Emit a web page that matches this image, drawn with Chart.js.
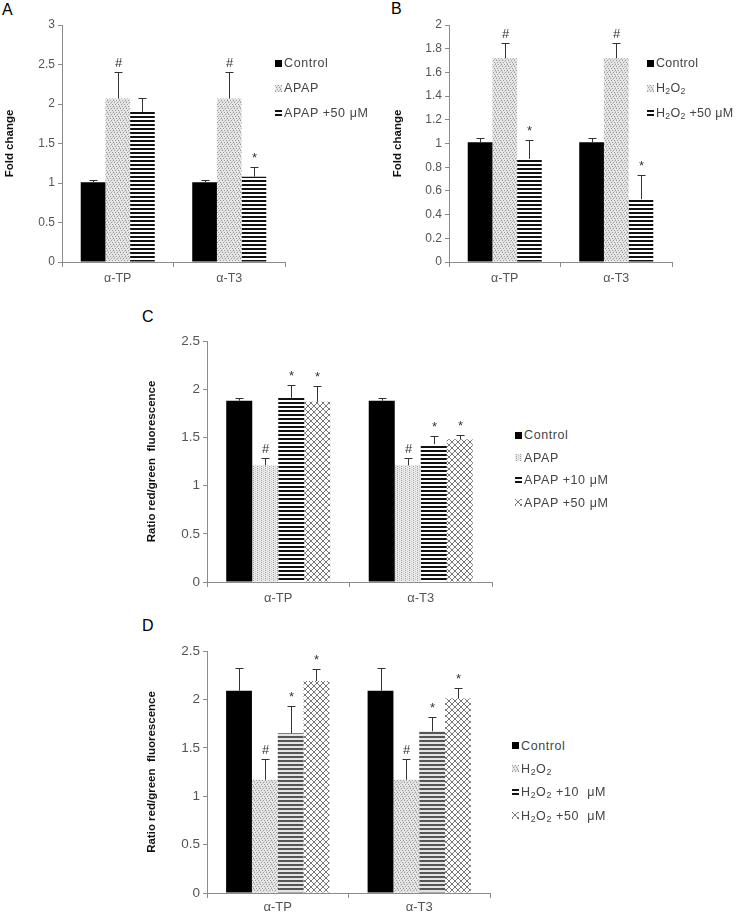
<!DOCTYPE html>
<html lang="en">
<head>
  <meta charset="UTF-8">
  <title>Fold change / red-green ratio</title>
  <script src="https://cdn.jsdelivr.net/npm/chart.js"></script>
  <style>
    body { margin: 0; background: #fff; }
    #wrap { position: relative; width: 740px; height: 915px; background: #fff; font-family: "Liberation Sans", Arial, sans-serif; }
    canvas.panel { position: absolute; }
    .letter { position: absolute; font-size: 16px; color: #000; line-height: 1; }
    .lg-row { position: absolute; display: flex; align-items: center; font-size: 12.5px; color: #444; letter-spacing: 0.6px; white-space: pre; }
    .lg-row canvas { margin-right: 2px; }
    sub { font-size: 0.7em; vertical-align: -0.25em; line-height: 0; }
  </style>
</head>
<body>
<div id="wrap">
  <div class="letter" style="left:2px;top:2px">A</div>
  <div class="letter" style="left:391px;top:1px">B</div>
  <div class="letter" style="left:142px;top:309px">C</div>
  <div class="letter" style="left:142px;top:618px">D</div>
  <canvas id="chartA" class="panel" width="290" height="290" style="left:0;top:0"></canvas>
  <canvas id="chartB" class="panel" width="307" height="290" style="left:370px;top:0"></canvas>
  <canvas id="chartC" class="panel" width="357" height="300" style="left:140px;top:310px"></canvas>
  <canvas id="chartD" class="panel" width="355" height="295" style="left:140px;top:620px"></canvas>
</div>

<script>
const categories = ['α-TP', 'α-T3'];

// A - Fold change, APAP
const aControl = [1.01, 1.01];
const aControlErr = [0.03, 0.03];
const aApap = [2.07, 2.07];
const aApapErr = [0.33, 0.33];
const aApap50 = [1.9, 1.08];
const aApap50Err = [0.18, 0.12];
const aMarks = [['', ''], ['#', '#'], ['', '*']];

// B - Fold change, H2O2
const bControl = [1.01, 1.01];
const bControlErr = [0.035, 0.035];
const bH2o2 = [1.72, 1.72];
const bH2o2Err = [0.13, 0.13];
const bH2o2_50 = [0.87, 0.53];
const bH2o2_50Err = [0.16, 0.2];
const bMarks = [['', ''], ['#', '#'], ['*', '*']];

// C - ratio red/green, APAP
const cControl = [1.88, 1.88];
const cControlErr = [0.03, 0.03];
const cApap = [1.21, 1.21];
const cApapErr = [0.08, 0.08];
const cApap10 = [1.91, 1.43];
const cApap10Err = [0.13, 0.08];
const cApap50 = [1.87, 1.48];
const cApap50Err = [0.16, 0.05];
const cMarks = [['', ''], ['#', '#'], ['*', '*'], ['*', '*']];

// D - ratio red/green, H2O2
const dControl = [2.09, 2.09];
const dControlErr = [0.23, 0.23];
const dH2o2 = [1.17, 1.17];
const dH2o2Err = [0.21, 0.21];
const dH2o2_10 = [1.65, 1.67];
const dH2o2_10Err = [0.28, 0.15];
const dH2o2_50 = [2.19, 2.01];
const dH2o2_50Err = [0.12, 0.11];
const dMarks = [['', ''], ['#', '#'], ['*', '*'], ['*', '*']];

const FONT = '"Liberation Sans", Arial, sans-serif';

// fill patterns
function tile(w, h, draw) {
  const c = document.createElement('canvas');
  c.width = w; c.height = h;
  draw(c.getContext('2d'));
  return c;
}
const tiles = {
  solid: tile(4, 4, g => { g.fillStyle = '#000'; g.fillRect(0, 0, 4, 4); }),
  dots: tile(6, 6, g => {
    g.fillStyle = '#e6e6e6'; g.fillRect(0, 0, 6, 6);
    g.fillStyle = '#9a9a9a';
    [[0, 0], [3, 0], [1, 2], [4, 2], [2, 4], [5, 4]].forEach(p => g.fillRect(p[0], p[1], 1, 1));
    g.fillStyle = '#c2c2c2';
    [[2, 1], [5, 3], [0, 5], [4, 5]].forEach(p => g.fillRect(p[0], p[1], 1, 1));
  }),
  vdots: tile(4, 4, g => {
    g.fillStyle = '#eaeaea'; g.fillRect(0, 0, 4, 4);
    g.fillStyle = '#a0a0a0'; g.fillRect(1, 0, 1, 1); g.fillRect(1, 2, 1, 1);
    g.fillStyle = '#c4c4c4'; g.fillRect(3, 1, 1, 1); g.fillRect(3, 3, 1, 1);
  }),
  stripes: tile(4, 4, g => {
    g.fillStyle = '#fff'; g.fillRect(0, 0, 4, 4);
    g.fillStyle = '#111'; g.fillRect(0, 0, 4, 2);
  }),
  greyStripes: tile(4, 4, g => {
    g.fillStyle = '#e4e4e4'; g.fillRect(0, 0, 4, 4);
    g.fillStyle = '#555'; g.fillRect(0, 0, 4, 2);
  }),
  cross: tile(6, 6, g => {
    g.fillStyle = '#fff'; g.fillRect(0, 0, 6, 6);
    g.strokeStyle = '#777'; g.lineWidth = 1;
    g.beginPath();
    g.moveTo(-1, -1); g.lineTo(7, 7);
    g.moveTo(7, -1); g.lineTo(-1, 7);
    g.stroke();
  })
};
function pat(ctx, name) {
  return ctx.createPattern(tiles[name], 'repeat');
}

// error bars + significance marks
const errorBars = {
  id: 'errorBars',
  afterDatasetsDraw(chart) {
    const ctx = chart.ctx;
    const ys = chart.scales.y;
    chart.data.datasets.forEach((ds, i) => {
      chart.getDatasetMeta(i).data.forEach((bar, j) => {
        const top = Math.round(ys.getPixelForValue(ds.data[j] + ds.errors[j])) + 0.5;
        const x = Math.round(bar.x) + 0.5;
        ctx.save();
        ctx.strokeStyle = '#333';
        ctx.lineWidth = 1;
        ctx.beginPath();
        ctx.moveTo(x, bar.y);
        ctx.lineTo(x, top);
        ctx.moveTo(x - 4, top);
        ctx.lineTo(x + 4, top);
        ctx.stroke();
        if (ds.marks[j]) {
          ctx.fillStyle = '#333';
          ctx.font = '13px ' + FONT;
          ctx.textAlign = 'center';
          ctx.textBaseline = 'bottom';
          ctx.fillText(ds.marks[j], x, top - 3);
        }
        ctx.restore();
      });
    });
  }
};

function panel(id, cfg) {
  const canvas = document.getElementById(id);
  const ctx = canvas.getContext('2d');
  return new Chart(canvas, {
    type: 'bar',
    data: {
      labels: categories,
      datasets: cfg.series.map((s, i) => ({
        label: s.label,
        data: s.data,
        errors: s.err,
        marks: cfg.marks[i],
        backgroundColor: pat(ctx, s.fill),
        borderWidth: 0,
        categoryPercentage: cfg.catPct,
        barPercentage: 1.0
      }))
    },
    options: {
      responsive: false,
      animation: false,
      events: [],
      layout: { padding: { top: cfg.padTop, right: 5, left: 0, bottom: 0 } },
      plugins: { legend: { display: false }, tooltip: { enabled: false } },
      scales: {
        x: {
          offset: true,
          grid: { offset: true, drawOnChartArea: false, tickLength: 5, color: '#8c8c8c' },
          border: { color: '#8c8c8c' },
          ticks: { color: '#555', font: { family: FONT, size: cfg.catSize }, padding: cfg.catPad },
          afterFit: s => { s.height = cfg.xHeight; }
        },
        y: {
          min: 0,
          max: cfg.yMax,
          ticks: {
            stepSize: cfg.yStep,
            color: '#555',
            font: { family: FONT, size: cfg.tickSize },
            padding: 3,
            callback: v => String(+v.toFixed(2))
          },
          grid: { drawOnChartArea: false, tickLength: 4, color: '#8c8c8c' },
          border: { color: '#8c8c8c' },
          title: {
            display: true,
            text: cfg.yTitle,
            color: '#111',
            font: { family: FONT, size: 11.5, weight: 'bold' },
            padding: { top: cfg.titlePad, bottom: 0 }
          },
          afterFit: s => { s.width = cfg.yWidth; }
        }
      }
    },
    plugins: [errorBars]
  });
}

panel('chartA', {
  series: [
    { label: 'Control', data: aControl, err: aControlErr, fill: 'solid' },
    { label: 'APAP', data: aApap, err: aApapErr, fill: 'dots' },
    { label: 'APAP +50 μM', data: aApap50, err: aApap50Err, fill: 'stripes' }
  ],
  marks: aMarks, yMax: 3, yStep: 0.5, yTitle: 'Fold change',
  padTop: 25, yWidth: 62, xHeight: 28, titlePad: 3, catPct: 0.664,
  tickSize: 12, catSize: 12.5, catPad: 4
});

panel('chartB', {
  series: [
    { label: 'Control', data: bControl, err: bControlErr, fill: 'solid' },
    { label: 'H2O2', data: bH2o2, err: bH2o2Err, fill: 'dots' },
    { label: 'H2O2 +50 μM', data: bH2o2_50, err: bH2o2_50Err, fill: 'stripes' }
  ],
  marks: bMarks, yMax: 2, yStep: 0.2, yTitle: 'Fold change',
  padTop: 25, yWidth: 79, xHeight: 28, titlePad: 21, catPct: 0.664,
  tickSize: 12, catSize: 12.5, catPad: 4
});

panel('chartC', {
  series: [
    { label: 'Control', data: cControl, err: cControlErr, fill: 'solid' },
    { label: 'APAP', data: cApap, err: cApapErr, fill: 'vdots' },
    { label: 'APAP +10 μM', data: cApap10, err: cApap10Err, fill: 'stripes' },
    { label: 'APAP +50 μM', data: cApap50, err: cApap50Err, fill: 'cross' }
  ],
  marks: cMarks, yMax: 2.5, yStep: 0.5, yTitle: 'Ratio red/green  fluorescence',
  padTop: 31, yWidth: 67, xHeight: 28, titlePad: 5, catPct: 0.73,
  tickSize: 13.5, catSize: 13, catPad: 4
});

panel('chartD', {
  series: [
    { label: 'Control', data: dControl, err: dControlErr, fill: 'solid' },
    { label: 'H2O2', data: dH2o2, err: dH2o2Err, fill: 'dots' },
    { label: 'H2O2 +10 μM', data: dH2o2_10, err: dH2o2_10Err, fill: 'greyStripes' },
    { label: 'H2O2 +50 μM', data: dH2o2_50, err: dH2o2_50Err, fill: 'cross' }
  ],
  marks: dMarks, yMax: 2.5, yStep: 0.5, yTitle: 'Ratio red/green  fluorescence',
  padTop: 31, yWidth: 67, xHeight: 22, titlePad: 5, catPct: 0.73,
  tickSize: 13.5, catSize: 13, catPad: 2
});

// legends (html, swatch uses the same fill tiles)
const H2O2 = 'H<sub>2</sub>O<sub>2</sub>';
function legend(left, top, gap, items, spacing) {
  const wrap = document.getElementById('wrap');
  items.forEach((it, i) => {
    const row = document.createElement('div');
    row.className = 'lg-row';
    row.style.left = left + 'px';
    row.style.top = (top + i * gap) + 'px';
    row.style.height = gap + 'px';
    if (spacing !== undefined) row.style.letterSpacing = spacing + 'px';
    const sw = document.createElement('canvas');
    sw.width = 7; sw.height = 7;
    const g = sw.getContext('2d');
    g.fillStyle = g.createPattern(tiles[it[0]], 'repeat');
    g.fillRect(0, 0, 7, 7);
    row.appendChild(sw);
    const txt = document.createElement('span');
    txt.innerHTML = it[1];
    row.appendChild(txt);
    wrap.appendChild(row);
  });
}
legend(275, 50.5, 25, [['solid', 'Control'], ['dots', 'APAP'], ['stripes', 'APAP +50 μM']]);
legend(647, 50.5, 25, [['solid', 'Control'], ['dots', H2O2], ['stripes', H2O2 + ' +50 μM']], 0.3);
legend(515, 424, 22.5, [['solid', 'Control'], ['vdots', 'APAP'], ['stripes', 'APAP +10 μM'], ['cross', 'APAP +50 μM']]);
legend(512, 734, 23.3, [['solid', 'Control'], ['dots', H2O2], ['stripes', H2O2 + ' +10  μM'], ['cross', H2O2 + ' +50  μM']]);
</script>
</body>
</html>
